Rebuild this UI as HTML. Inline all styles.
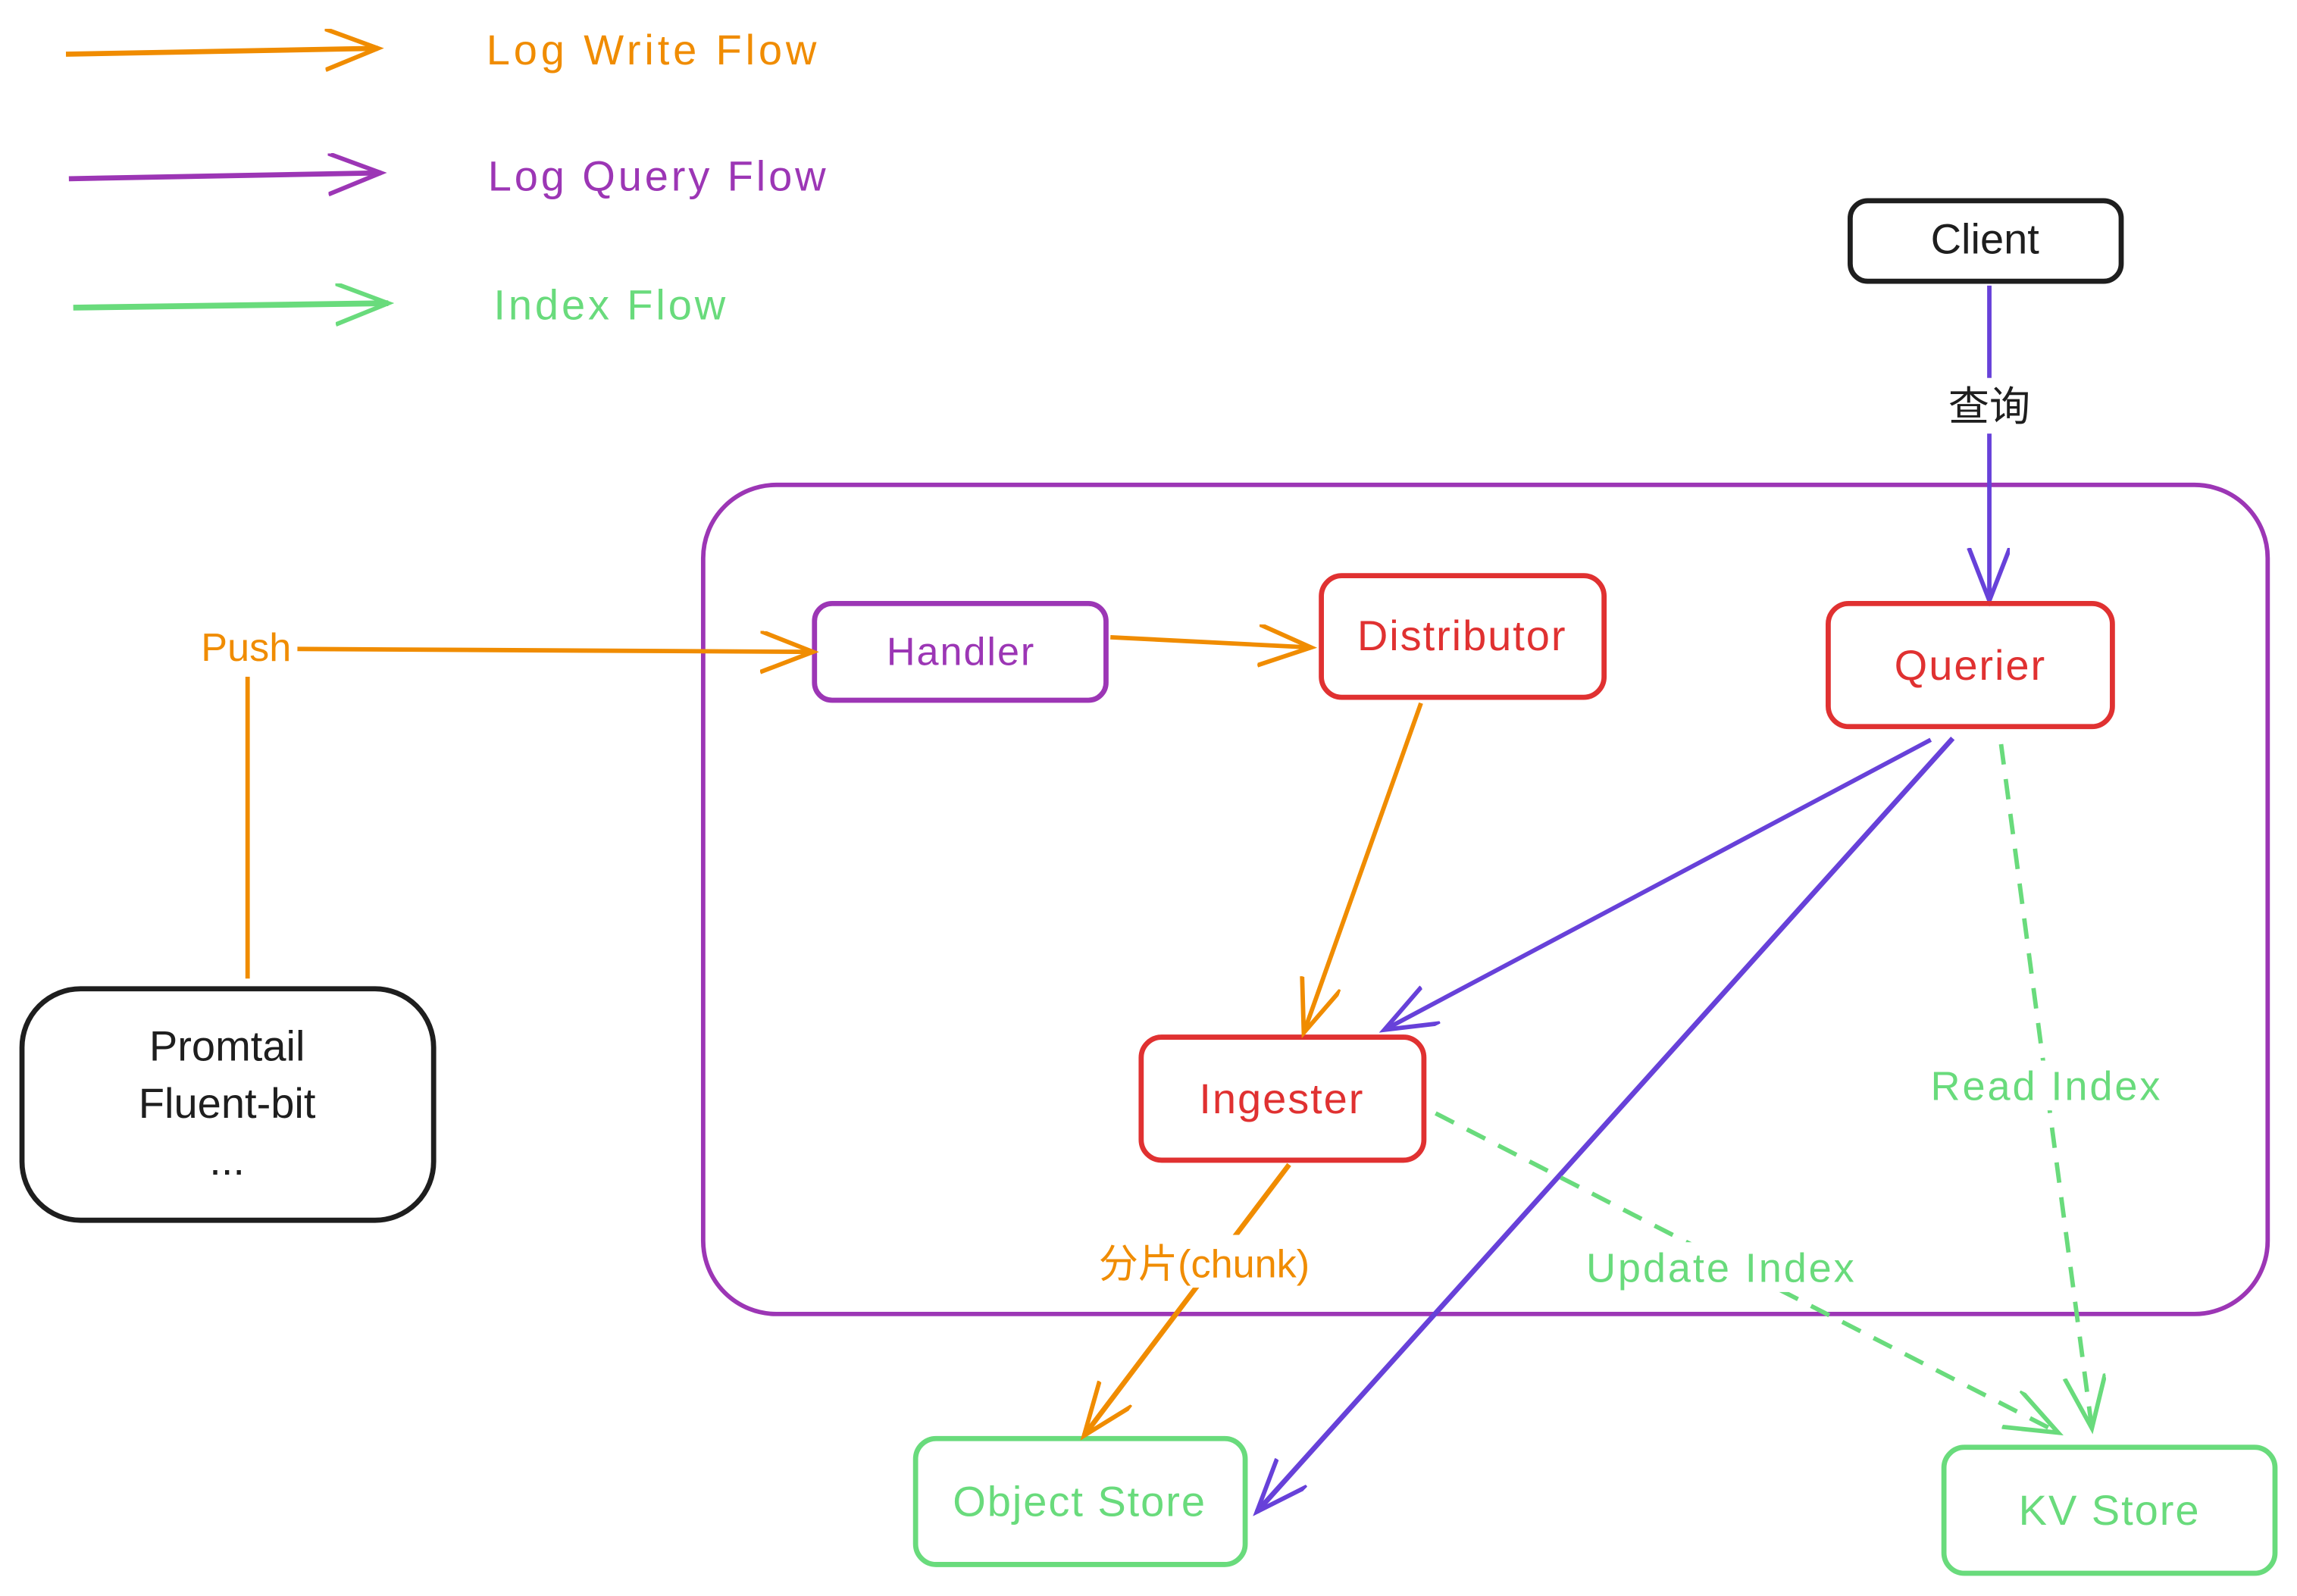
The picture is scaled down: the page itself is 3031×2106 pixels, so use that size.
<!DOCTYPE html>
<html><head><meta charset="utf-8"><style>
html,body{margin:0;padding:0;background:#fff;}
svg{display:block}
text{font-family:"Liberation Sans","Noto Sans CJK SC",sans-serif;}
</style></head><body>
<svg width="3031" height="2106" viewBox="0 0 1568 1089.5" xmlns="http://www.w3.org/2000/svg">
<defs>
<marker id="ap" markerWidth="40" markerHeight="30" refX="36" refY="14" orient="auto" markerUnits="userSpaceOnUse"><path d="M0,0 L36,14 L0,28" fill="none" stroke="#9c36b5" stroke-width="3"/></marker>
<marker id="ab" markerWidth="40" markerHeight="30" refX="36" refY="14" orient="auto" markerUnits="userSpaceOnUse"><path d="M0,0 L36,14 L0,28" fill="none" stroke="#6741d9" stroke-width="3"/></marker>
<marker id="ag" markerWidth="40" markerHeight="30" refX="36" refY="14" orient="auto" markerUnits="userSpaceOnUse"><path d="M0,0 L36,14 L0,28" fill="none" stroke="#69db7c" stroke-width="3"/></marker>
<marker id="ao2" markerWidth="40" markerHeight="30" refX="36" refY="14" orient="auto" markerUnits="userSpaceOnUse"><path d="M0,0 L36,14 L0,28" fill="none" stroke="#f08c00" stroke-width="3"/></marker>
</defs>
<!-- legend -->
<line x1="45" y1="37" x2="258" y2="33" stroke="#f08c00" stroke-width="3.5" marker-end="url(#ao2)"/>
<text x="332" y="44" font-size="29" letter-spacing="2.5" fill="#f08c00">Log Write Flow</text>
<line x1="47" y1="122" x2="260" y2="118" stroke="#9c36b5" stroke-width="3.5" marker-end="url(#ap)"/>
<text x="333" y="130" font-size="29" letter-spacing="2" fill="#9c36b5">Log Query Flow</text>
<line x1="50" y1="210" x2="265" y2="207" stroke="#69db7c" stroke-width="4" marker-end="url(#ag)"/>
<text x="337" y="218" font-size="29" letter-spacing="2" fill="#69db7c">Index Flow</text>

<!-- big container -->
<rect x="480" y="331" width="1068" height="566" rx="50" fill="none" stroke="#9c36b5" stroke-width="3"/>

<!-- client -->
<rect x="1263" y="137" width="185" height="55" rx="12" fill="none" stroke="#1e1e1e" stroke-width="3.5"/>
<text x="1355" y="173" font-size="29" text-anchor="middle" fill="#1e1e1e">Client</text>
<line x1="1358" y1="195" x2="1358" y2="410" stroke="#6741d9" stroke-width="3" marker-end="url(#ab)"/>
<rect x="1326" y="258" width="64" height="38" fill="#fff"/>
<text x="1358" y="287" font-size="28" text-anchor="middle" fill="#1e1e1e">查询</text>

<!-- boxes -->
<rect x="556" y="412" width="199" height="66" rx="12" fill="none" stroke="#9c36b5" stroke-width="3.5"/>
<text x="656" y="454" font-size="27" letter-spacing="1" text-anchor="middle" fill="#9c36b5">Handler</text>
<rect x="902" y="393" width="193" height="83" rx="14" fill="none" stroke="#e03131" stroke-width="3.5"/>
<text x="998" y="444" font-size="29" letter-spacing="1" text-anchor="middle" fill="#e03131">Distributor</text>
<rect x="1248" y="412" width="194" height="84" rx="14" fill="none" stroke="#e03131" stroke-width="3.5"/>
<text x="1345" y="464" font-size="29" letter-spacing="1" text-anchor="middle" fill="#e03131">Querier</text>
<rect x="779" y="708" width="193" height="84" rx="14" fill="none" stroke="#e03131" stroke-width="3.5"/>
<text x="875" y="760" font-size="29" letter-spacing="1" text-anchor="middle" fill="#e03131">Ingester</text>
<rect x="625" y="982" width="225" height="86" rx="14" fill="none" stroke="#69db7c" stroke-width="3.5"/>
<text x="737" y="1035" font-size="29" letter-spacing="1" text-anchor="middle" fill="#69db7c">Object Store</text>
<rect x="1327" y="988" width="226" height="86" rx="14" fill="none" stroke="#69db7c" stroke-width="3.5"/>
<text x="1440" y="1041" font-size="29" letter-spacing="1" text-anchor="middle" fill="#69db7c">KV Store</text>
<rect x="15" y="675" width="281" height="158" rx="40" fill="none" stroke="#1e1e1e" stroke-width="3.5"/>
<text x="155" y="724" font-size="29" text-anchor="middle" fill="#1e1e1e">Promtail</text>
<text x="155" y="763" font-size="29" text-anchor="middle" fill="#1e1e1e">Fluent-bit</text>
<text x="155" y="802" font-size="29" text-anchor="middle" fill="#1e1e1e">...</text>

<!-- write flow -->
<line x1="169" y1="462" x2="169" y2="668" stroke="#f08c00" stroke-width="3"/>
<text x="168" y="451" font-size="27" text-anchor="middle" fill="#f08c00">Push</text>
<line x1="203" y1="443" x2="555" y2="445" stroke="#f08c00" stroke-width="3" marker-end="url(#ao2)"/>
<line x1="758" y1="435" x2="895" y2="442" stroke="#f08c00" stroke-width="3" marker-end="url(#ao2)"/>
<line x1="970" y1="480" x2="890" y2="705" stroke="#f08c00" stroke-width="3" marker-end="url(#ao2)"/>
<line x1="880" y1="795" x2="740" y2="980" stroke="#f08c00" stroke-width="3.5" marker-end="url(#ao2)"/>
<rect x="740" y="843" width="166" height="36" fill="#fff"/>
<text x="822" y="872" font-size="27" text-anchor="middle" fill="#f08c00">分片(chunk)</text>

<!-- query flow -->
<line x1="1318" y1="505" x2="945" y2="703" stroke="#6741d9" stroke-width="3" marker-end="url(#ab)"/>
<line x1="1333" y1="504" x2="858" y2="1032" stroke="#6741d9" stroke-width="3.5" marker-end="url(#ab)"/>

<!-- index flow -->
<line x1="1366" y1="508" x2="1428" y2="975" stroke="#69db7c" stroke-width="3" stroke-dasharray="14 10" marker-end="url(#ag)"/>
<rect x="1306" y="724" width="182" height="34" fill="#fff"/>
<text x="1397" y="751" font-size="28" letter-spacing="1.5" text-anchor="middle" fill="#69db7c">Read Index</text>
<line x1="980" y1="760" x2="1405" y2="978" stroke="#69db7c" stroke-width="3" stroke-dasharray="14 10" marker-end="url(#ag)"/>
<rect x="1068" y="848" width="214" height="34" fill="#fff"/>
<text x="1175" y="875" font-size="28" letter-spacing="1.5" text-anchor="middle" fill="#69db7c">Update Index</text>
</svg>
</body></html>
